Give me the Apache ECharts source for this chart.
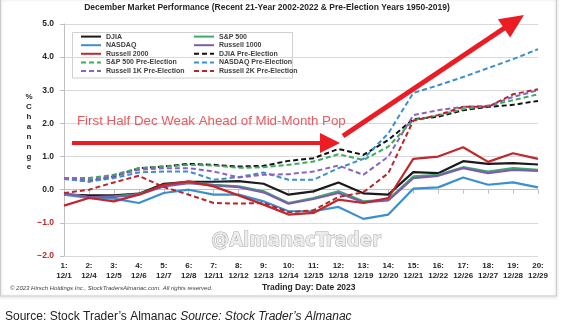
<!DOCTYPE html>
<html>
<head>
<meta charset="utf-8">
<script src="https://cdn.jsdelivr.net/npm/echarts@6/dist/echarts.min.js"></script>
<style>
html,body{margin:0;padding:0;background:#fff;}
#c{width:563px;height:331px;}
</style>
</head>
<body>
<div id="c"></div>
<script>
const tradingDays = [1,2,3,4,5,6,7,8,9,10,11,12,13,14,15,16,17,18,19,20];
const categories = ['12/1','12/4','12/5','12/6','12/7','12/8','12/11','12/12','12/13','12/14','12/15','12/18','12/19','12/20','12/21','12/22','12/26','12/27','12/28','12/29'];
const yTicks = [-2,-1,0,1,2,3,4,5];

const djia      = [-0.15,-0.17,-0.17,-0.12,0.18,0.24,0.24,0.26,0.18,-0.15,-0.05,0.22,-0.11,-0.15,0.53,0.50,0.86,0.78,0.80,0.76];
const sp500     = [-0.10,-0.23,-0.20,-0.13,0.12,0.22,0.15,0.10,-0.05,-0.40,-0.25,-0.05,-0.35,-0.30,0.40,0.45,0.68,0.55,0.65,0.60];
const nasdaq    = [-0.15,-0.25,-0.27,-0.40,-0.10,0.00,-0.15,-0.15,-0.35,-0.65,-0.65,-0.52,-0.88,-0.75,0.03,0.07,0.37,0.15,0.22,0.07];
const r1000     = [-0.12,-0.22,-0.22,-0.15,0.10,0.20,0.13,0.08,-0.08,-0.42,-0.28,-0.10,-0.38,-0.32,0.35,0.42,0.65,0.50,0.60,0.57];
const r2000     = [-0.48,-0.25,-0.35,-0.15,0.15,0.25,0.10,-0.17,-0.45,-0.75,-0.70,-0.30,-0.40,-0.25,0.93,1.00,1.28,0.84,1.10,0.93];
const djiaPE    = [0.35,0.25,0.40,0.65,0.70,0.78,0.75,0.70,0.72,0.87,0.95,1.23,1.05,1.50,2.13,2.20,2.40,2.50,2.56,2.68];
const sp500PE   = [0.35,0.35,0.45,0.65,0.70,0.75,0.73,0.66,0.68,0.75,0.85,1.07,0.90,1.30,2.10,2.25,2.43,2.53,2.70,2.88];
const nasdaqPE  = [0.32,0.25,0.35,0.52,0.55,0.55,0.30,0.38,0.52,0.30,0.30,0.65,0.93,1.70,2.92,3.15,3.40,3.67,3.94,4.24];
const r1kPE     = [0.35,0.30,0.42,0.60,0.65,0.65,0.55,0.37,0.45,0.47,0.55,0.73,0.45,1.00,2.25,2.40,2.50,2.53,2.80,3.00];
const r2kPE     = [-0.10,0.00,0.22,0.42,0.08,-0.15,-0.40,-0.42,-0.40,-0.68,-0.62,-0.22,-0.08,0.50,2.08,2.25,2.50,2.50,2.88,3.03];

const seriesDefs = [
  {name:'DJIA', data:djia, color:'#1a1a1a', dash:false},
  {name:'S&P 500', data:sp500, color:'#3daa6e', dash:false},
  {name:'NASDAQ', data:nasdaq, color:'#3b8fcf', dash:false},
  {name:'Russell 1000', data:r1000, color:'#7b5ea7', dash:false},
  {name:'Russell 2000', data:r2000, color:'#c0282d', dash:false},
  {name:'DJIA Pre-Election', data:djiaPE, color:'#111111', dash:true},
  {name:'S&P 500 Pre-Election', data:sp500PE, color:'#3daa5e', dash:true},
  {name:'NASDAQ Pre-Election', data:nasdaqPE, color:'#3b8fcf', dash:true},
  {name:'Russell 1K Pre-Election', data:r1kPE, color:'#8a63c0', dash:true},
  {name:'Russell 2K Pre-Election', data:r2kPE, color:'#b5272d', dash:true}
];

const chart = echarts.init(document.getElementById('c'), null, {renderer:'canvas'});

function arrow(x1,y1,x2,y2,headLen,headW,lineW,color){
  const dx=x2-x1, dy=y2-y1, L=Math.sqrt(dx*dx+dy*dy);
  const ux=dx/L, uy=dy/L, nx=-uy, ny=ux;
  const bx=x2-ux*headLen, by=y2-uy*headLen;
  return [
    {type:'line', shape:{x1:x1,y1:y1,x2:bx+ux*1,y2:by+uy*1}, style:{stroke:color,lineWidth:lineW}, z:100},
    {type:'polygon', shape:{points:[[x2,y2],[bx+nx*headW/2,by+ny*headW/2],[bx-nx*headW/2,by-ny*headW/2]]}, style:{fill:color}, z:100}
  ];
}

const legendText = {fontSize:7, fontWeight:'bold', color:'#404040', fontFamily:'Liberation Sans', lineHeight:8};
const legendCommon = {orient:'vertical', padding:0, itemWidth:20, itemHeight:8, itemGap:0.6, textStyle:legendText, selectedMode:false,
  itemStyle:{opacity:0, borderWidth:0}};

const option = {
  animation:false,
  backgroundColor:'#fff',
  grid:{left:64, right:25, top:24, bottom:75, containLabel:false},
  legend:[
    Object.assign({left:80, top:32.6, data:['DJIA','NASDAQ','Russell 2000','S&P 500 Pre-Election','Russell 1K Pre-Election']}, legendCommon),
    Object.assign({left:193, top:32.6, data:['S&P 500','Russell 1000','DJIA Pre-Election','NASDAQ Pre-Election','Russell 2K Pre-Election']}, legendCommon)
  ],
  xAxis:{
    type:'category', data:categories, boundaryGap:false,
    axisLine:{lineStyle:{color:'#bfbfbf'}},
    axisTick:{show:true, length:4, lineStyle:{color:'#bfbfbf'}},
    axisLabel:{interval:0, margin:5, fontSize:8, fontWeight:'bold', color:'#262626', fontFamily:'Liberation Sans', lineHeight:10,
      formatter:(v,i)=> tradingDays[i] + ':\n' + v},
    splitLine:{show:false}
  },
  yAxis:{
    type:'value', min:yTicks[0], max:yTicks[yTicks.length-1], interval:1,
    axisLine:{show:true, lineStyle:{color:'#bfbfbf'}},
    axisTick:{show:true, length:4, lineStyle:{color:'#bfbfbf'}},
    splitLine:{lineStyle:{color:'#d9d9d9'}},
    axisLabel:{margin:10, fontSize:8.5, fontWeight:'bold', color:'#262626', fontFamily:'Liberation Sans',
      formatter:v=> v<0 ? '{neg|\u2212' + Math.abs(v).toFixed(1) + '}' : v.toFixed(1),
      rich:{neg:{color:'#b8282d', fontSize:8.5, fontWeight:'bold', fontFamily:'Liberation Sans'}}}
  },
  series: seriesDefs.map(s=>({
    name:s.name, type:'line', data:s.data, symbol:'none', smooth:false,
    lineStyle:{color:s.color, width:s.dash?2:2.2, type:s.dash?[5,3]:'solid'},
    itemStyle:{color:s.color},
    emphasis:{disabled:true}
  })),
  graphic:[
    {type:'rect', shape:{x:0.5,y:-2,width:556,height:298}, style:{fill:'none', stroke:'#cccccc', lineWidth:1, shadowBlur:3, shadowColor:'rgba(0,0,0,0.25)', shadowOffsetY:1}, z:-10, silent:true},
    {type:'rect', shape:{x:72.5,y:32.5,width:220,height:45.5}, style:{fill:'#fff', stroke:'#d0d0d0', lineWidth:1}, z:-1},
    {type:'text', x:267, y:8, style:{text:'December Market Performance (Recent 21-Year 2002-2022 & Pre-Election Years 1950-2019)', fontSize:8.5, fontWeight:'bold', fill:'#262626', fontFamily:'Liberation Sans', align:'center', verticalAlign:'middle'}},
    {type:'text', x:29, y:92, style:{text:'%\nC\nh\na\nn\nn\ng\ne', fontSize:8, fontWeight:'bold', fill:'#262626', fontFamily:'Liberation Sans', align:'center', lineHeight:10}},
    {type:'text', x:10, y:288, style:{text:'\u00a9 2023 Hirsch Holdings Inc., StockTradersAlmanac.com. All rights reserved.', fontSize:6, fontStyle:'italic', fill:'#404040', fontFamily:'Liberation Sans', verticalAlign:'middle'}},
    {type:'text', x:262, y:288, style:{text:'Trading Day: Date 2023', fontSize:8.5, fontWeight:'bold', fill:'#262626', fontFamily:'Liberation Sans', verticalAlign:'middle'}},
    {type:'text', x:296, y:241, style:{text:'@AlmanacTrader', fontSize:20, fontWeight:'bold', fill:'#ececec', stroke:'#a8a8a8', lineWidth:1, fontFamily:'Liberation Sans Narrow, DejaVu Sans Condensed', align:'center', verticalAlign:'middle'}, z:-2},
    {type:'text', x:77, y:121, style:{text:'First Half Dec Weak Ahead of Mid-Month Pop', fontSize:13.3, fill:'#e45c5f', fontFamily:'Liberation Sans', verticalAlign:'middle'}, z:100},
    ...arrow(72,143,340,143,20,20,4,'#ec1c24'),
    ...arrow(343,136,524,15,24,22,5,'#ec1c24'),
    {type:'text', x:5, y:317, style:{rich:{n:{fontSize:12, fontFamily:'Liberation Sans', fill:'#222'}, i:{fontSize:12, fontFamily:'Liberation Sans', fontStyle:'italic', fill:'#222'}}, text:"{n|Source: Stock Trader\u2019s Almanac }{i|Source: Stock Trader\u2019s Almanac}", verticalAlign:'middle'}}
  ]
};
chart.setOption(option);
</script>
</body>
</html>
